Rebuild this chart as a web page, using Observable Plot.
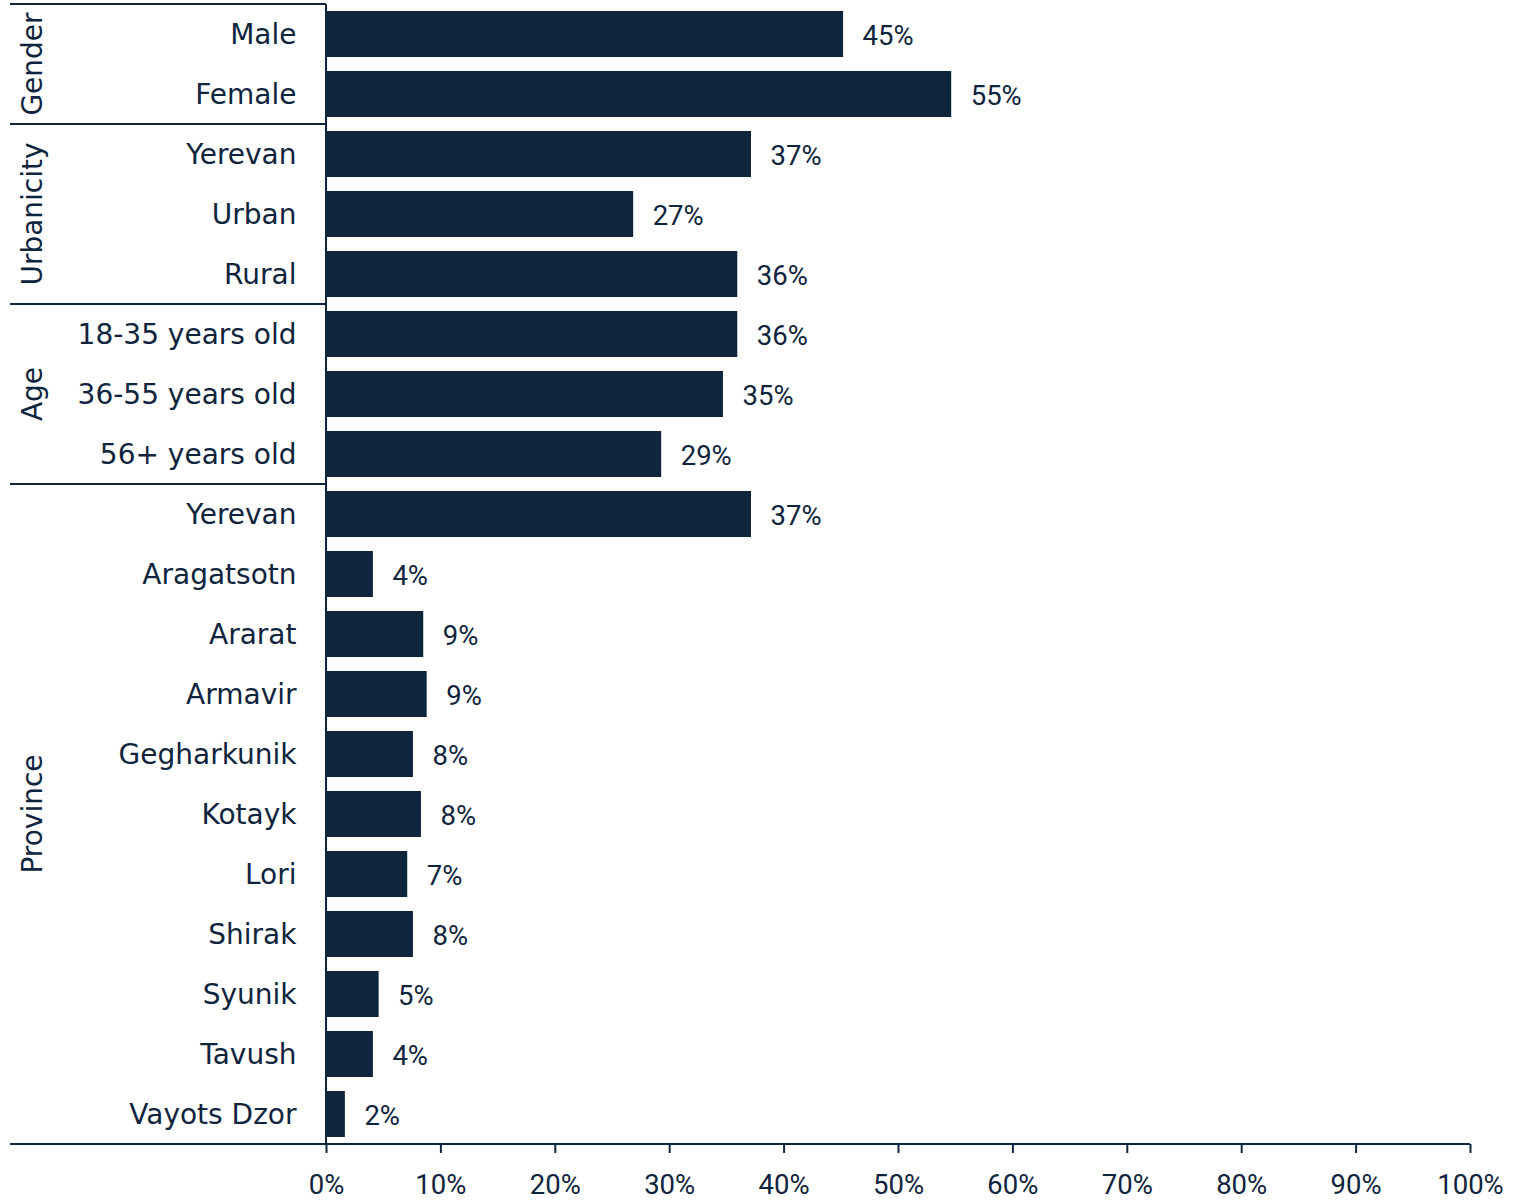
<!DOCTYPE html>
<html><head><meta charset="utf-8">
<script src="https://cdn.jsdelivr.net/npm/d3@7"></script>
<script src="https://cdn.jsdelivr.net/npm/@observablehq/plot@0.6"></script>
<style>html,body{margin:0;padding:0;background:#fff} svg{display:block}</style>
</head><body><div id="chart"></div>
<script>
const categories = ["Male","Female","Yerevan","Urban","Rural","18-35 years old","36-55 years old","56+ years old","Yerevan","Aragatsotn","Ararat","Armavir","Gegharkunik","Kotayk","Lori","Shirak","Syunik","Tavush","Vayots Dzor"];
const groups = ["Gender","Gender","Urbanicity","Urbanicity","Urbanicity","Age","Age","Age","Province","Province","Province","Province","Province","Province","Province","Province","Province","Province","Province"];
const values = [45.2,54.65,37.15,26.85,35.95,35.95,34.7,29.3,37.15,4.1,8.5,8.8,7.6,8.3,7.1,7.6,4.6,4.1,1.65];
const valueLabels = ["45%","55%","37%","27%","36%","36%","35%","29%","37%","4%","9%","9%","8%","8%","7%","8%","5%","4%","2%"];
const groupNames = ["Gender","Urbanicity","Age","Province"];
const xTicks = [0,10,20,30,40,50,60,70,80,90,100];
const xTickLabels = ["0%","10%","20%","30%","40%","50%","60%","70%","80%","90%","100%"];

const navy = "#0f243d";
const pad = 0.233;
const keys = categories.map((c, i) => String(i));
const data = categories.map((c, i) => ({key: keys[i], category: c, group: groups[i], value: values[i], label: valueLabels[i]}));

function frameMark(index, scales, vals, dims) {
  const y = scales.y, x = scales.x;
  const step = y(keys[1]) - y(keys[0]);
  const boundary = i => i < keys.length ? y(keys[i]) - step * pad / 2 : y(keys[keys.length - 1]) + step * (1 - pad / 2);
  const left = 10;
  const x0 = x(0), x1 = x(100);
  const g = d3.create("svg:g").attr("stroke", navy).attr("stroke-width", 2).attr("fill", "none");
  const top = boundary(0), bottom = boundary(keys.length);
  for (const name of groupNames) {
    const first = groups.indexOf(name), last = groups.lastIndexOf(name);
    const yt = boundary(first), yb = boundary(last + 1);
    g.append("line").attr("x1", left).attr("x2", x0).attr("y1", yt).attr("y2", yt);
    const cy = (yt + yb) / 2, cx = 32;
    g.append("text")
      .attr("stroke", "none").attr("fill", navy)
      .attr("font-family", "DejaVu Sans").attr("font-size", 28)
      .attr("text-anchor", "middle").attr("dominant-baseline", "central")
      .attr("transform", `translate(${cx},${cy}) rotate(-90)`)
      .text(name);
  }
  g.append("line").attr("x1", x0).attr("x2", x0).attr("y1", top).attr("y2", bottom);
  g.append("line").attr("x1", left).attr("x2", x1).attr("y1", bottom).attr("y2", bottom);
  return g.node();
}

const chart = Plot.plot({
  width: 1521,
  height: 1201,
  marginLeft: 326,
  marginRight: 51,
  marginTop: 4,
  marginBottom: 57,
  style: {fontFamily: "DejaVu Sans", color: navy, background: "#fff"},
  x: {domain: [0, 100], label: null},
  y: {type: "band", domain: keys, paddingInner: pad, paddingOuter: pad / 2, label: null},
  marks: [
    Plot.barX(data, {x: "value", y: "key", fill: navy}),
    Plot.text(data, {x: "value", y: "key", text: "label", textAnchor: "start", dx: 19, dy: 1.5, fontSize: 27.5, fontFamily: "Roboto", fill: navy}),
    Plot.axisY({tickSize: 0, tickPadding: 30, dy: 1, tickFormat: k => categories[+k], fontSize: 28, fontFamily: "DejaVu Sans", fill: navy}),
    Plot.axisX({ticks: xTicks, tickFormat: d => xTickLabels[xTicks.indexOf(d)], tickSize: 9, tickPadding: 21, strokeWidth: 2, stroke: navy, fontSize: 27.5, fontFamily: "Roboto", fill: navy}),
    frameMark
  ]
});
document.getElementById("chart").appendChild(chart);
</script>
</body></html>
